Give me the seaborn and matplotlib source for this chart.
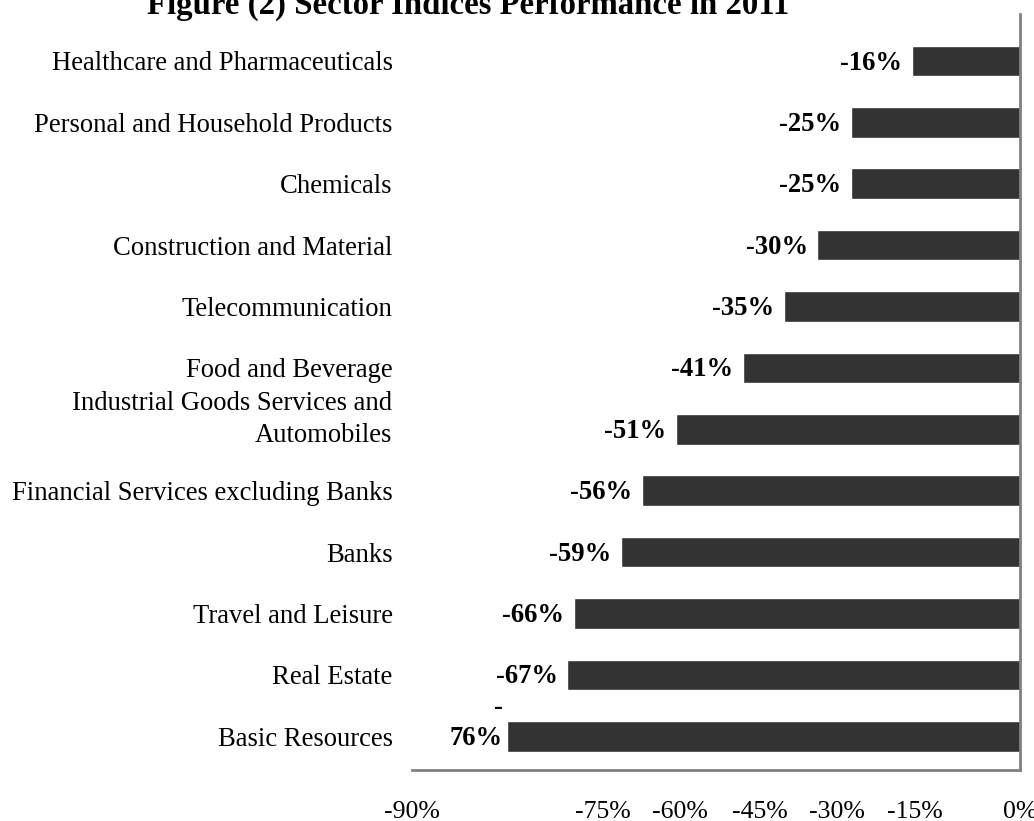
import matplotlib
matplotlib.use("Agg")
import matplotlib.pyplot as plt
import matplotlib.transforms as mtransforms
import seaborn as sns
import pandas as pd

# Sector index performance in 2011 (percent change)
sectors = [
    "Healthcare and Pharmaceuticals",
    "Personal and Household Products",
    "Chemicals",
    "Construction and Material",
    "Telecommunication",
    "Food and Beverage",
    "Industrial Goods Services and\nAutomobiles",
    "Financial Services excluding Banks",
    "Banks",
    "Travel and Leisure",
    "Real Estate",
    "Basic Resources",
]
changes = [-16, -25, -25, -30, -35, -41, -51, -56, -59, -66, -67, -76]

tick_labels = ["-90%", "-75%", "-60%", "-45%", "-30%", "-15%", "0%"]
tick_label_pos = [-90, -61.7, -50.3, -38.5, -27.1, -15.5, 0]

title = "Figure (2) Sector Indices Performance in 2011"

sns.set_theme(style="white")
plt.rcParams["font.family"] = ["Liberation Serif", "DejaVu Serif"]

df = pd.DataFrame({"sector": sectors, "change": changes})

fig = plt.figure(figsize=(10.34, 8.21), dpi=100)
ax = fig.add_axes([0.3985, 0.0621, 0.588, 0.9209])

sns.barplot(data=df, x="change", y="sector", orient="h", color="#333333",
            saturation=1, width=0.5, ax=ax)

ax.set_xlim(-90, 0)
ax.set_ylim(len(sectors) - 1 + 0.55, -0.765)

# axes lines: bottom and the zero line on the right
for side in ("top", "left"):
    ax.spines[side].set_visible(False)
for side in ("bottom", "right"):
    ax.spines[side].set_visible(True)
    ax.spines[side].set_color("#808080")
    ax.spines[side].set_linewidth(2)

ax.set_xlabel("")
ax.set_ylabel("")
ax.set_xticks(tick_label_pos)
ax.set_xticklabels(tick_labels, fontsize=18.5, color="black")
ax.tick_params(axis="x", length=0, pad=22)
ax.tick_params(axis="y", length=0, pad=14, labelsize=19.2, labelcolor="black")

# lift the two-line label a bit
for lbl in ax.get_yticklabels():
    if "\n" in lbl.get_text():
        lbl.set_linespacing(1.35)
        lbl.set_transform(lbl.get_transform() +
                          mtransforms.ScaledTranslation(0, 16 / 100, fig.dpi_scale_trans))

# value labels at the bar ends
value_text = [f"{v}%" for v in changes]
value_text[-1] = f"-\n{abs(changes[-1])}%"
anns = ax.bar_label(ax.containers[0], labels=value_text, padding=7,
                    fontsize=19.2, fontweight="bold", color="black")
for a in anns:
    a.xyann = (-7, -1.5)
anns[-1].set_multialignment("right")
anns[-1].set_linespacing(1.35)
anns[-1].xyann = (-3, 9.5)

fig.text(468 / 1034, 1 - 14 / 821, title, ha="center", va="baseline",
         fontsize=23.6, fontweight="bold", color="black")

fig.savefig("out.png", dpi=100)
